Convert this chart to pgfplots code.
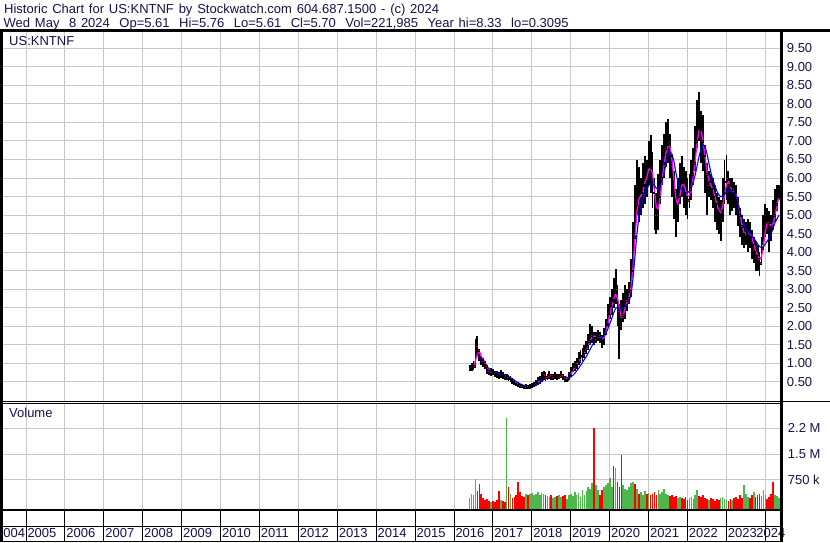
\documentclass[border=0pt]{standalone}
\usepackage{fontspec}
\setmainfont{Liberation Sans}
\usepackage{pgfplots}
\pgfplotsset{compat=1.18}
\usepackage{pgfplotstable}

\definecolor{txt}{HTML}{14144A}
\definecolor{gridc}{HTML}{C8C8C8}
\definecolor{volg}{HTML}{4CB84C}
\definecolor{volr}{HTML}{FF0000}
\definecolor{mag}{HTML}{FF00FF}
\definecolor{blu}{HTML}{0000FF}

% x = year, lo/hi/c = price range and close, m1 = fast average, m2 = slow average
\pgfplotstableread{
x lo hi c m1 m2
2016.40 0.78 0.95 0.85 0.85 nan
2016.45 0.80 1.00 0.88 0.87 nan
2016.50 0.82 1.05 0.92 0.88 nan
2016.55 0.90 1.65 1.45 1.08 nan
2016.60 1.20 1.74 1.35 1.24 nan
2016.65 1.05 1.35 1.15 1.32 1.12
2016.70 0.95 1.20 1.05 1.18 1.12
2016.75 0.90 1.15 1.00 1.07 1.10
2016.80 0.85 1.05 0.92 0.99 1.00
2016.85 0.70 0.95 0.78 0.90 0.90
2016.90 0.68 0.85 0.75 0.82 0.85
2016.95 0.65 0.88 0.80 0.78 0.80
2017.00 0.68 0.85 0.75 0.77 0.77
2017.05 0.62 0.80 0.70 0.75 0.75
2017.10 0.60 0.78 0.68 0.71 0.73
2017.15 0.58 0.75 0.65 0.68 0.71
2017.20 0.60 0.82 0.70 0.68 0.69
2017.25 0.58 0.75 0.66 0.67 0.68
2017.30 0.55 0.72 0.62 0.66 0.67
2017.35 0.55 0.70 0.62 0.63 0.66
2017.40 0.52 0.68 0.58 0.61 0.64
2017.45 0.50 0.65 0.55 0.58 0.61
2017.50 0.45 0.60 0.50 0.54 0.58
2017.55 0.40 0.55 0.45 0.50 0.54
2017.60 0.38 0.50 0.42 0.46 0.50
2017.65 0.35 0.48 0.40 0.42 0.47
2017.70 0.33 0.45 0.38 0.40 0.44
2017.75 0.32 0.42 0.36 0.38 0.42
2017.80 0.30 0.42 0.35 0.36 0.40
2017.85 0.31 0.44 0.37 0.36 0.38
2017.90 0.30 0.40 0.34 0.35 0.37
2017.95 0.32 0.45 0.38 0.36 0.37
2018.00 0.33 0.46 0.40 0.37 0.37
2018.05 0.35 0.50 0.42 0.40 0.38
2018.10 0.38 0.55 0.48 0.43 0.40
2018.15 0.42 0.62 0.55 0.48 0.43
2018.20 0.45 0.65 0.58 0.54 0.47
2018.25 0.50 0.75 0.62 0.58 0.51
2018.30 0.55 0.80 0.68 0.63 0.55
2018.35 0.52 0.75 0.62 0.64 0.58
2018.40 0.55 0.72 0.65 0.65 0.60
2018.45 0.58 0.78 0.68 0.65 0.62
2018.50 0.55 0.72 0.62 0.65 0.63
2018.55 0.55 0.70 0.63 0.64 0.64
2018.60 0.58 0.75 0.66 0.64 0.64
2018.65 0.55 0.72 0.62 0.64 0.64
2018.70 0.58 0.70 0.64 0.64 0.64
2018.75 0.60 0.78 0.68 0.65 0.64
2018.80 0.55 0.72 0.62 0.65 0.64
2018.85 0.48 0.65 0.55 0.62 0.63
2018.90 0.50 0.62 0.56 0.58 0.62
2018.95 0.55 0.75 0.68 0.60 0.61
2019.00 0.65 0.90 0.82 0.69 0.63
2019.05 0.75 1.00 0.90 0.80 0.67
2019.10 0.80 1.05 0.95 0.89 0.72
2019.15 0.85 1.15 1.05 0.97 0.79
2019.20 0.95 1.30 1.15 1.05 0.86
2019.25 1.00 1.35 1.20 1.13 0.94
2019.30 1.05 1.40 1.25 1.20 1.02
2019.35 1.15 1.50 1.35 1.27 1.10
2019.40 1.25 1.60 1.45 1.35 1.18
2019.45 1.35 1.80 1.60 1.47 1.28
2019.50 1.50 2.05 1.75 1.60 1.38
2019.55 1.55 2.00 1.80 1.72 1.48
2019.60 1.50 1.85 1.65 1.73 1.56
2019.65 1.55 1.85 1.70 1.72 1.62
2019.70 1.60 1.90 1.75 1.70 1.66
2019.75 1.55 1.85 1.65 1.70 1.68
2019.80 1.40 1.75 1.60 1.67 1.69
2019.85 1.50 1.95 1.80 1.68 1.72
2019.90 1.75 2.20 2.05 1.82 1.80
2019.95 2.00 2.60 2.35 2.07 1.92
2020.00 2.20 2.80 2.55 2.32 2.05
2020.05 2.30 3.00 2.70 2.53 2.20
2020.10 2.50 3.30 2.90 2.72 2.35
2020.15 2.60 3.55 3.00 2.87 2.48
2020.20 2.00 3.10 2.40 2.77 2.52
2020.25 1.10 2.60 2.00 2.47 2.48
2020.30 1.90 2.70 2.30 2.23 2.45
2020.35 2.10 2.90 2.55 2.28 2.50
2020.40 2.20 3.10 2.70 2.52 2.55
2020.45 2.40 3.00 2.75 2.67 2.60
2020.50 2.60 3.20 2.95 2.80 2.68
2020.55 2.80 3.80 3.50 3.07 2.85
2020.60 3.50 4.80 4.40 3.62 3.30
2020.65 4.40 5.80 5.30 4.40 3.90
2020.70 5.00 6.50 5.60 5.10 4.50
2020.75 4.80 6.30 5.40 5.43 4.95
2020.80 5.00 6.00 5.60 5.53 5.20
2020.85 5.20 6.40 5.80 5.60 5.40
2020.90 5.30 6.60 6.20 5.87 5.55
2020.95 5.50 6.50 6.00 6.00 5.70
2021.00 5.80 7.00 6.50 6.23 5.80
2021.05 5.60 7.15 6.30 6.27 5.85
2021.10 5.20 6.70 5.60 6.13 5.85
2021.15 4.60 6.00 5.00 5.63 5.80
2021.20 4.50 5.60 5.00 5.20 5.72
2021.25 4.60 6.10 5.50 5.17 5.70
2021.30 5.30 6.50 6.00 5.50 5.80
2021.35 5.80 6.90 6.40 5.97 5.95
2021.40 6.00 7.20 6.80 6.40 6.15
2021.45 6.30 7.50 6.90 6.70 6.40
2021.50 6.40 7.60 7.00 6.90 6.60
2021.55 6.00 7.20 6.60 6.83 6.70
2021.60 5.50 6.60 5.90 6.50 6.65
2021.65 4.90 6.20 5.40 5.97 6.45
2021.70 4.40 5.70 5.00 5.43 6.15
2021.75 4.80 6.00 5.50 5.30 5.90
2021.80 5.30 6.40 6.00 5.50 5.75
2021.85 5.50 6.60 5.90 5.80 5.70
2021.90 5.20 6.30 5.60 5.83 5.65
2021.95 5.00 6.20 5.50 5.67 5.60
2022.00 4.90 6.00 5.40 5.50 5.60
2022.05 5.20 6.10 5.70 5.53 5.65
2022.10 5.40 6.50 6.10 5.73 5.75
2022.15 5.80 6.80 6.40 6.07 5.90
2022.20 6.20 7.40 7.00 6.50 6.10
2022.25 6.80 8.10 7.60 7.00 6.35
2022.30 7.00 8.33 7.30 7.30 6.60
2022.35 6.40 7.80 7.00 7.30 6.80
2022.40 6.20 7.70 6.60 6.97 6.90
2022.45 5.60 6.90 6.10 6.57 6.85
2022.50 5.00 6.40 5.80 6.17 6.65
2022.55 5.50 6.20 5.90 5.93 6.40
2022.60 5.40 6.10 5.70 5.80 6.15
2022.65 5.20 6.00 5.50 5.70 5.95
2022.70 4.80 5.80 5.30 5.50 5.80
2022.75 4.60 5.60 5.10 5.30 5.65
2022.80 4.50 5.50 5.00 5.13 5.55
2022.85 4.30 5.40 5.10 5.07 5.50
2022.90 4.80 6.00 5.60 5.23 5.50
2022.95 5.30 6.50 5.90 5.53 5.55
2023.00 5.40 6.62 6.00 5.83 5.62
2023.05 5.30 6.20 5.80 5.90 5.65
2023.10 5.00 6.00 5.50 5.77 5.65
2023.15 5.10 6.00 5.70 5.67 5.62
2023.20 5.20 5.90 5.60 5.60 5.60
2023.25 5.00 5.80 5.40 5.57 5.50
2023.30 4.70 5.50 5.00 5.33 5.30
2023.35 4.40 5.20 4.70 5.03 5.10
2023.40 4.20 5.00 4.50 4.73 4.90
2023.45 4.10 4.90 4.40 4.53 4.75
2023.50 4.20 4.80 4.50 4.47 4.62
2023.55 4.00 4.90 4.60 4.50 4.55
2023.60 4.10 4.80 4.40 4.50 4.50
2023.65 3.80 4.60 4.20 4.40 4.45
2023.70 3.70 4.40 4.00 4.20 4.38
2023.75 3.50 4.30 3.90 4.03 4.30
2023.80 3.50 4.20 3.80 3.90 4.22
2023.85 3.35 4.00 3.70 3.80 4.15
2023.90 3.70 4.40 4.10 3.87 4.12
2023.95 4.20 5.00 4.70 4.17 4.15
2024.00 4.40 5.30 4.90 4.57 4.22
2024.05 4.50 5.20 4.80 4.80 4.30
2024.10 4.00 5.10 4.60 4.77 4.38
2024.15 4.30 5.00 4.70 4.70 4.50
2024.20 4.60 5.40 5.00 4.77 4.65
2024.25 4.80 5.70 5.30 5.00 4.80
2024.30 5.10 5.80 5.50 5.27 4.90
2024.35 5.40 5.80 5.70 5.50 5.00
}\price

% volume in millions, up periods
\pgfplotstableread{
x v
2016.40 0.22
2016.45 0.35
2016.50 0.30
2016.55 0.78
2016.95 0.12
2017.20 0.18
2017.35 2.54
2017.45 0.35
2017.85 0.35
2017.95 0.35
2018.00 0.38
2018.05 0.30
2018.10 0.35
2018.15 0.40
2018.20 0.32
2018.25 0.38
2018.30 0.35
2018.40 0.28
2018.45 0.25
2018.55 0.22
2018.60 0.25
2018.70 0.30
2018.75 0.25
2018.90 0.20
2018.95 0.30
2019.00 0.35
2019.05 0.28
2019.10 0.40
2019.15 0.30
2019.20 0.38
2019.25 0.25
2019.30 0.45
2019.35 0.30
2019.40 0.42
2019.45 0.55
2019.50 0.50
2019.55 0.65
2019.65 0.60
2019.70 0.45
2019.85 0.55
2019.90 0.60
2019.95 0.65
2020.00 0.80
2020.05 0.55
2020.15 1.09
2020.35 0.60
2020.40 0.50
2020.45 0.45
2020.50 0.55
2020.55 0.65
2020.60 0.70
2020.70 0.50
2020.80 0.40
2020.85 0.30
2020.90 0.42
2021.00 0.38
2021.25 0.45
2021.30 0.35
2021.35 0.40
2021.40 0.50
2021.45 0.35
2021.50 0.30
2021.75 0.22
2021.80 0.25
2022.05 0.22
2022.10 0.25
2022.15 0.20
2022.20 0.30
2022.25 0.45
2022.55 0.18
2022.85 0.22
2022.90 0.25
2022.95 0.20
2023.00 0.18
2023.15 0.18
2023.45 0.60
2023.50 0.35
2023.55 0.25
2023.70 0.40
2023.90 0.28
2023.95 0.45
2024.00 0.30
2024.25 0.30
2024.30 0.28
2024.35 0.22
}\volup

% volume in millions, down periods
\pgfplotstableread{
x v
2016.60 0.42
2016.65 0.62
2016.70 0.35
2016.75 0.22
2016.80 0.18
2016.85 0.20
2016.90 0.15
2017.00 0.14
2017.05 0.12
2017.10 0.16
2017.15 0.42
2017.25 0.15
2017.30 0.12
2017.40 0.55
2017.50 0.22
2017.55 0.25
2017.60 0.30
2017.65 0.70
2017.70 0.40
2017.75 0.28
2017.80 0.25
2017.90 0.30
2018.35 0.30
2018.50 0.30
2018.65 0.28
2018.80 0.28
2018.85 0.32
2019.60 2.25
2019.75 0.30
2019.80 0.45
2020.10 1.16
2020.20 0.70
2020.25 0.55
2020.30 1.48
2020.65 0.62
2020.75 0.35
2020.95 0.35
2021.05 0.30
2021.10 0.35
2021.15 0.40
2021.20 0.30
2021.55 0.28
2021.60 0.30
2021.65 0.25
2021.70 0.28
2021.85 0.22
2021.90 0.20
2021.95 0.25
2022.00 0.18
2022.30 0.28
2022.35 0.25
2022.40 0.30
2022.45 0.22
2022.50 0.20
2022.60 0.22
2022.65 0.20
2022.70 0.15
2022.75 0.20
2022.80 0.18
2023.05 0.15
2023.10 0.20
2023.20 0.22
2023.25 0.25
2023.30 0.20
2023.35 0.30
2023.40 0.22
2023.60 0.22
2023.65 0.30
2023.75 0.25
2023.80 0.32
2023.85 0.35
2024.05 0.20
2024.10 0.25
2024.15 0.35
2024.20 0.68
}\voldown

\newcommand{\lbl}{\fontsize{13bp}{15bp}\selectfont}

\pgfplotsset{
  panel/.style={
    scale only axis, width=780.2bp, anchor=south west,
    xmin=2004.37, xmax=2024.42,
    major tick length=0pt,
    axis line style={line width=1.2bp},
    grid=major, major grid style={draw=gridc, line width=1bp},
    tick label style={font=\lbl, text=txt},
    yticklabel pos=right,
  },
}

\begin{document}
\begin{tikzpicture}[x=1bp,y=1bp]
\useasboundingbox (0,0) rectangle (830,543);
\fill[white] (0,0) rectangle (830,543);

% price panel
\begin{axis}[panel, at={(1.5bp,141.7bp)}, height=371bp,
  ymin=-0.03, ymax=9.99,
  xtick={2005,...,2024}, xticklabels={},
  ytick={0.5,1,1.5,2,2.5,3,3.5,4,4.5,5,5.5,6,6.5,7,7.5,8,8.5,9,9.5},
  yticklabel style={anchor=west, inner sep=0pt, xshift=5bp,
    /pgf/number format/fixed, /pgf/number format/fixed zerofill,
    /pgf/number format/precision=2, /pgf/number format/assume math mode=true},
]
\addplot[draw=none, mark=none, error bars/.cd, y dir=both, y explicit, error mark=none,
  error bar style={draw=black, line width=1.9bp}]
  table[x=x, y=c, y error plus expr=\thisrow{hi}-\thisrow{c},
        y error minus expr=\thisrow{c}-\thisrow{lo}] {\price};
\addplot[only marks, mark=square*, mark size=0.8bp,
  mark options={draw=none, fill=red, xshift=0.9bp}] table[x=x, y=c] {\price};
\addplot[mag, line width=1.3bp] table[x=x, y=m1] {\price};
\addplot[blu, line width=1.1bp, unbounded coords=jump] table[x=x, y=m2] {\price};
\end{axis}

% volume panel
\begin{axis}[panel, at={(1.5bp,33.2bp)}, height=106bp,
  ymin=-0.115, ymax=2.96,
  xtick={2005,...,2024}, xticklabels={},
  ytick={0.75,1.5,2.25}, yticklabels={750 k,1.5 M,2.2 M},
  yticklabel style={anchor=west, inner sep=0pt, xshift=6bp},
]
\addplot[draw=none, mark=none, error bars/.cd, y dir=plus, y explicit, error mark=none,
  error bar style={draw=volg, line width=1.7bp}]
  table[x=x, y expr=-0.115, y error plus expr=\thisrow{v}+0.115] {\volup};
\addplot[draw=none, mark=none, error bars/.cd, y dir=plus, y explicit, error mark=none,
  error bar style={draw=volr, line width=1.7bp}]
  table[x=x, y expr=-0.115, y error plus expr=\thisrow{v}+0.115] {\voldown};
\end{axis}

% year strip
\begin{axis}[panel, at={(1.5bp,1.5bp)}, height=31.7bp,
  ymin=0, ymax=1, clip=false,
  xtick={2005,...,2023},
  extra x ticks={2024}, extra x tick labels={2024},
  extra x tick style={xticklabel style={xshift=-10.5bp}},
  xticklabel style={anchor=base west, inner sep=0pt, xshift=1.3bp, yshift=3.7bp,
    /pgf/number format/1000 sep={}, /pgf/number format/assume math mode=true},
  ytick={0.483}, yticklabels={},
  major grid style={draw=black, line width=1bp},
]
\node[anchor=base east, inner sep=0pt, font=\lbl, text=txt, xshift=-0.8bp, yshift=3.7bp]
  at (axis cs:2005,0) {2004};
\end{axis}

% frame lines
\draw[line width=2.7bp] (0,512.7) -- (830,512.7);
\draw[line width=2.7bp] (1.35,1) -- (1.35,512.7);
\draw[line width=3bp] (781.7,1) -- (781.7,512.7);
\draw[line width=1.3bp] (781.7,141.7) -- (830,141.7);
\draw[line width=1.7bp] (0,33.2) -- (781.7,33.2);

% texts
\node[anchor=base west, inner sep=0pt, font=\lbl, text=txt] at (4,529.7)
  {\makebox[435bp][s]{Historic Chart for US:KNTNF by Stockwatch.com 604.687.1500 - (c) 2024}};
\node[anchor=base west, inner sep=0pt, font=\lbl, text=txt] at (3.5,515.3)
  {\makebox[565bp][s]{Wed May\ \ 8 2024\ \ Op=5.61\ \ Hi=5.76\ \ Lo=5.61\ \ Cl=5.70\ \ Vol=221,985\ \ Year hi=8.33\ \ lo=0.3095}};
\node[anchor=base west, inner sep=0pt, font=\lbl, text=txt] at (9,497) {US:KNTNF};
\node[anchor=base west, inner sep=0pt, font=\lbl, text=txt] at (9,125) {Volume};
\end{tikzpicture}
\end{document}
